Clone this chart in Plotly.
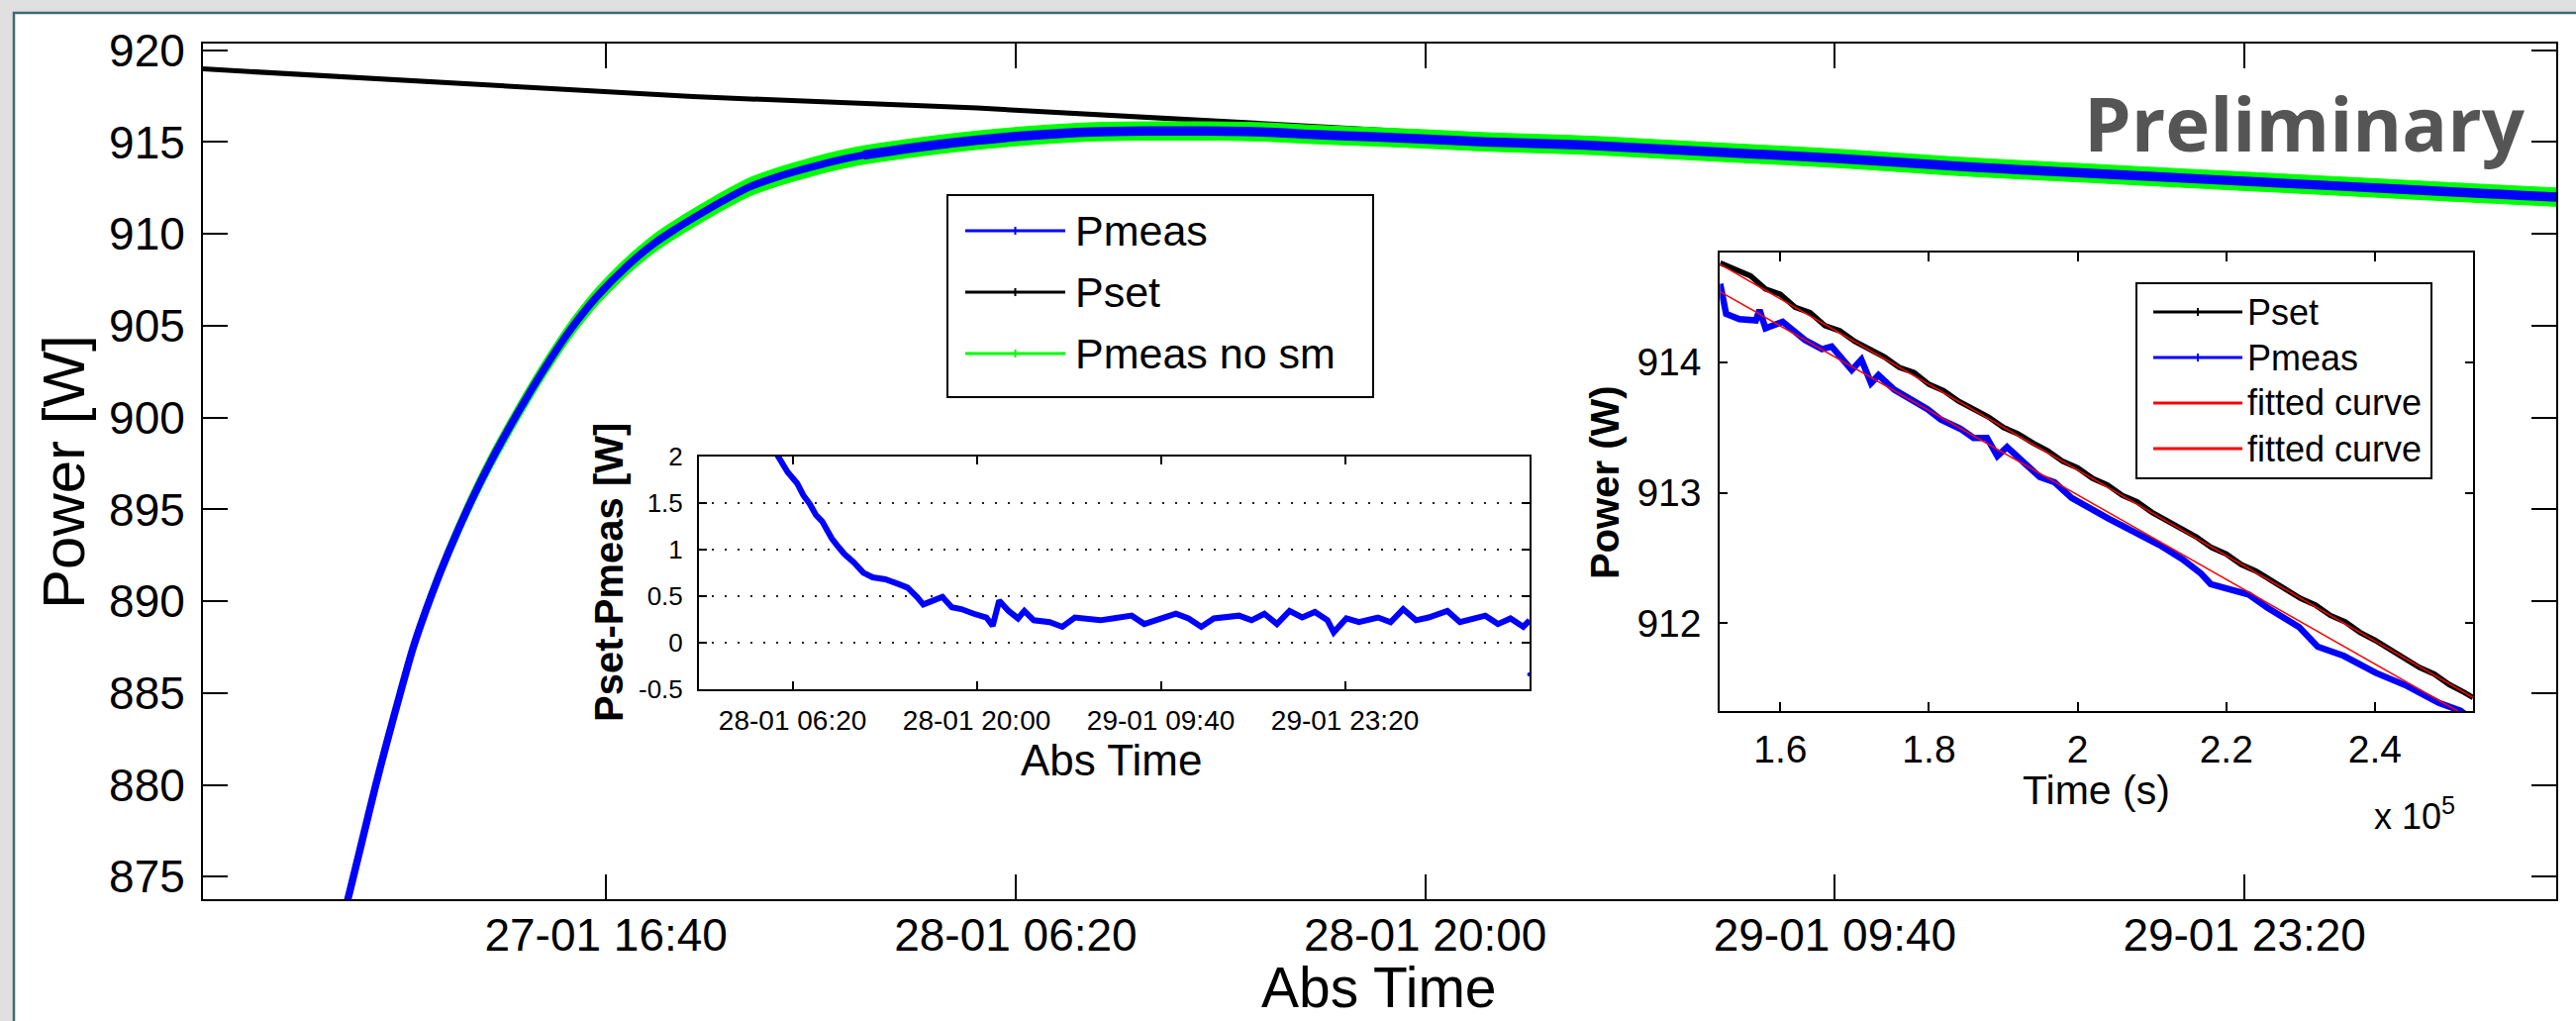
import plotly.graph_objects as go

FONT = "Liberation Sans, Arial, Helvetica, sans-serif"

# ------------------------------------------------------------------
# Main panel: Power [W] vs Abs Time
# ------------------------------------------------------------------
main_tick_times = ["2015-01-27 16:40", "2015-01-28 06:20", "2015-01-28 20:00",
                   "2015-01-29 09:40", "2015-01-29 23:20"]
main_power_ticks = [875, 880, 885, 890, 895, 900, 905, 910, 915, 920]

pmeas_time = [
    "2015-01-27 07:21", "2015-01-27 08:06", "2015-01-27 08:32", "2015-01-27 08:59",
    "2015-01-27 09:21", "2015-01-27 09:48", "2015-01-27 10:14", "2015-01-27 10:50",
    "2015-01-27 11:25", "2015-01-27 12:09", "2015-01-27 12:49", "2015-01-27 13:42",
    "2015-01-27 14:35", "2015-01-27 15:29", "2015-01-27 16:22", "2015-01-27 17:24",
    "2015-01-27 18:17", "2015-01-27 19:01", "2015-01-27 19:34", "2015-01-27 20:34",
    "2015-01-27 21:27", "2015-01-27 22:23", "2015-01-27 23:22", "2015-01-28 00:18",
    "2015-01-28 01:15", "2015-01-28 03:10", "2015-01-28 05:03", "2015-01-28 06:56",
    "2015-01-28 08:51", "2015-01-28 10:44", "2015-01-28 12:39", "2015-01-28 14:32",
    "2015-01-28 16:25", "2015-01-28 18:20", "2015-01-28 20:13", "2015-01-28 22:08",
    "2015-01-29 01:18", "2015-01-29 05:32", "2015-01-29 09:45", "2015-01-29 13:57",
    "2015-01-29 18:11", "2015-01-29 22:25", "2015-01-30 02:38", "2015-01-30 06:52",
    "2015-01-30 09:44"]
pmeas_power = [
    869.3, 874.1, 877.0, 880.0,
    882.3, 885.0, 887.5, 890.3,
    892.7, 895.4, 897.6, 900.2,
    902.6, 904.8, 906.6, 908.3,
    909.5, 910.3, 910.85, 911.8,
    912.55, 913.1, 913.57, 913.97,
    914.29, 914.74, 915.1, 915.37,
    915.55, 915.6, 915.6, 915.55,
    915.4, 915.28, 915.15, 915.0,
    914.83, 914.47, 914.11, 913.66,
    913.3, 912.94, 912.59, 912.23,
    912.0]

# unsmoothed measurement: read as a noise band (upper / lower edge of the green trace)
pmeas_nosm_time = list(pmeas_time)
pmeas_nosm_upper = [
    869.8, 874.6, 877.5, 880.5,
    882.8, 885.5, 888.0, 890.8,
    893.2, 895.9, 898.1, 900.7,
    903.1, 905.3, 907.1, 908.8,
    910.0, 910.8, 911.35, 912.3,
    913.05, 913.6, 914.07, 914.47,
    914.79, 915.24, 915.6, 915.87,
    916.05, 916.1, 916.1, 916.05,
    915.9, 915.78, 915.65, 915.5,
    915.33, 914.97, 914.61, 914.16,
    913.8, 913.44, 913.09, 912.73,
    912.5]
pmeas_nosm_lower = [
    868.8, 873.6, 876.5, 879.5,
    881.8, 884.5, 887.0, 889.8,
    892.2, 894.9, 897.1, 899.7,
    902.1, 904.3, 906.1, 907.8,
    909.0, 909.8, 910.35, 911.3,
    912.05, 912.6, 913.07, 913.47,
    913.79, 914.24, 914.6, 914.87,
    915.05, 915.1, 915.1, 915.05,
    914.9, 914.78, 914.65, 914.5,
    914.33, 913.97, 913.61, 913.16,
    912.8, 912.44, 912.09, 911.73,
    911.5]

pset_time = ["2015-01-27 03:00", "2015-01-27 12:58", "2015-01-27 19:34",
             "2015-01-28 05:03", "2015-01-28 11:42", "2015-01-28 17:34",
             "2015-01-29 01:18", "2015-01-29 18:11", "2015-01-30 09:44"]
pset_power = [919.0, 918.06, 917.47, 916.85, 916.25, 915.72, 915.07, 913.55, 912.22]

# ------------------------------------------------------------------
# Inset 1: Pset-Pmeas [W] vs Abs Time
# ------------------------------------------------------------------
diff_tick_times = ["2015-01-28 06:20", "2015-01-28 20:00",
                   "2015-01-29 09:40", "2015-01-29 23:20"]
diff_ticks = [-0.5, 0, 0.5, 1, 1.5, 2]
diff_ticklabels = ["-0.5", "0", "0.5", "1", "1.5", "2"]
diff_time = [
    "2015-01-28 04:50", "2015-01-28 05:15", "2015-01-28 05:58", "2015-01-28 06:40",
    "2015-01-28 07:08", "2015-01-28 07:36", "2015-01-28 08:04", "2015-01-28 08:32",
    "2015-01-28 09:14", "2015-01-28 09:43", "2015-01-28 10:11", "2015-01-28 10:53",
    "2015-01-28 11:35", "2015-01-28 12:17", "2015-01-28 13:13", "2015-01-28 14:10",
    "2015-01-28 14:52", "2015-01-28 15:34", "2015-01-28 16:02", "2015-01-28 16:44",
    "2015-01-28 17:27", "2015-01-28 18:09", "2015-01-28 18:51", "2015-01-28 19:47",
    "2015-01-28 20:43", "2015-01-28 21:11", "2015-01-28 21:40", "2015-01-28 22:22",
    "2015-01-28 23:04", "2015-01-28 23:32", "2015-01-29 00:14", "2015-01-29 01:25",
    "2015-01-29 02:21", "2015-01-29 03:17", "2015-01-29 04:13", "2015-01-29 05:10",
    "2015-01-29 06:06", "2015-01-29 07:30", "2015-01-29 08:26", "2015-01-29 09:51",
    "2015-01-29 10:47", "2015-01-29 11:43", "2015-01-29 12:40", "2015-01-29 13:36",
    "2015-01-29 14:32", "2015-01-29 15:28", "2015-01-29 16:24", "2015-01-29 17:21",
    "2015-01-29 18:17", "2015-01-29 19:13", "2015-01-29 20:09", "2015-01-29 21:06",
    "2015-01-29 22:02", "2015-01-29 22:30", "2015-01-29 23:26", "2015-01-30 00:22",
    "2015-01-30 01:47", "2015-01-30 02:43", "2015-01-30 03:39", "2015-01-30 04:36",
    "2015-01-30 05:32", "2015-01-30 06:56", "2015-01-30 07:52", "2015-01-30 08:49",
    "2015-01-30 09:45", "2015-01-30 10:41", "2015-01-30 11:37", "2015-01-30 12:34",
    "2015-01-30 13:02"]
diff_value = [
    2.10, 2.00, 1.83, 1.71,
    1.58, 1.49, 1.37, 1.30,
    1.12, 1.03, 0.95, 0.86,
    0.75, 0.70, 0.68, 0.63,
    0.59, 0.49, 0.41, 0.45,
    0.49, 0.38, 0.36, 0.31,
    0.27, 0.18, 0.45, 0.34,
    0.26, 0.34, 0.24, 0.22,
    0.17, 0.27, 0.26, 0.24,
    0.26, 0.29, 0.20, 0.26,
    0.31, 0.26, 0.17, 0.26,
    0.27, 0.29, 0.24, 0.31,
    0.20, 0.34, 0.27, 0.33,
    0.24, 0.11, 0.26, 0.22,
    0.27, 0.22, 0.36, 0.24,
    0.27, 0.34, 0.22, 0.26,
    0.29, 0.20, 0.26, 0.17,
    0.24]
diff_outlier_time = ["2015-01-30 13:00"]
diff_outlier_value = [-0.34]

# ------------------------------------------------------------------
# Inset 2: Power (W) vs Time (s)
# ------------------------------------------------------------------
fit_time_ticks = [160000, 180000, 200000, 220000, 240000]
fit_time_ticklabels = ["1.6", "1.8", "2", "2.2", "2.4"]
fit_power_ticks = [912, 913, 914]

inset_pset_time = [151900, 153500, 156000, 158000, 160000, 162000, 164000, 166000,
                   168000, 170000, 172000, 174000, 176000, 178000, 180000, 182000,
                   184000, 186000, 188000, 190000, 192000, 194000, 196000, 198000,
                   200000, 202000, 204000, 206000, 208000, 210000, 212000, 214000,
                   216000, 218000, 220000, 222000, 224000, 226000, 228000, 230000,
                   232000, 234000, 236000, 238000, 240000, 242000, 244000, 246000,
                   248000, 250000, 252000, 253200]
inset_pset_power = [914.76, 914.72, 914.66, 914.56, 914.52, 914.42, 914.38, 914.28,
                    914.24, 914.16, 914.10, 914.04, 913.96, 913.92, 913.83, 913.78,
                    913.70, 913.64, 913.58, 913.50, 913.45, 913.38, 913.32, 913.24,
                    913.19, 913.11, 913.06, 912.98, 912.93, 912.85, 912.79, 912.72,
                    912.66, 912.58, 912.53, 912.45, 912.40, 912.33, 912.26, 912.19,
                    912.14, 912.06, 912.01, 911.93, 911.87, 911.80, 911.74, 911.66,
                    911.61, 911.53, 911.47, 911.43]

inset_pmeas_time = [151900, 152700, 154500, 156700, 157200, 158000, 160300, 163300,
                    165600, 166900, 169600, 170900, 172200, 173200, 175300, 177600,
                    179800, 181600, 184200, 186000, 187800, 189200, 190500, 192200,
                    194900, 196900, 199200, 204200, 207700, 211000, 214100, 216600,
                    217900, 223000, 225500, 229800, 232300, 235800, 240100, 244300,
                    248600, 251500, 252900]
inset_pmeas_power = [914.60, 914.37, 914.33, 914.32, 914.40, 914.26, 914.31, 914.17,
                     914.10, 914.12, 913.94, 914.02, 913.84, 913.90, 913.79, 913.72,
                     913.64, 913.56, 913.49, 913.42, 913.42, 913.28, 913.35, 913.26,
                     913.12, 913.08, 912.96, 912.80, 912.70, 912.60, 912.49, 912.38,
                     912.30, 912.22, 912.12, 911.97, 911.82, 911.75, 911.62, 911.52,
                     911.39, 911.33, 911.27]

fit_line_time = [151900, 253200]
fit_line_pset = [914.75, 911.43]
fit_line_pmeas = [914.54, 911.26]

# ------------------------------------------------------------------
# Geometry helpers (pixel -> paper fractions)
# ------------------------------------------------------------------
W, H = 2602, 1031
L, R, T, B = 205, 2582, 44, 908


def fx(px):
    return (px - L) / (R - L)


def fy(py):
    return (B - py) / (B - T)


def axis_style(ticklen, fontsize, standoff):
    return dict(showline=True, linecolor="black", linewidth=2, mirror="ticks",
                ticks="inside", ticklen=ticklen, tickwidth=1.5, tickcolor="black",
                showgrid=False, zeroline=False, ticklabelstandoff=standoff,
                tickfont=dict(family=FONT, size=fontsize, color="black"))


BLUE, GREEN, RED = "#0000ff", "#00ff00", "#ff0000"
flat_start = pmeas_time.index("2015-01-28 01:15")

fig = go.Figure()

# main panel traces
fig.add_trace(go.Scatter(x=pset_time, y=pset_power, mode="lines",
                         line=dict(color="black", width=5), name="Pset",
                         xaxis="x", yaxis="y"))
fig.add_trace(go.Scatter(x=pmeas_nosm_time, y=pmeas_nosm_lower, mode="lines",
                         line=dict(color=GREEN, width=1, shape="spline", smoothing=0.8),
                         name="Pmeas no sm", xaxis="x", yaxis="y"))
fig.add_trace(go.Scatter(x=pmeas_nosm_time, y=pmeas_nosm_upper, mode="lines",
                         line=dict(color=GREEN, width=1, shape="spline", smoothing=0.8),
                         fill="tonexty", fillcolor=GREEN,
                         name="Pmeas no sm", xaxis="x", yaxis="y"))
fig.add_trace(go.Scatter(x=pmeas_time, y=pmeas_power, mode="lines",
                         line=dict(color=BLUE, width=7.5, shape="spline", smoothing=0.8),
                         name="Pmeas", xaxis="x", yaxis="y"))
fig.add_trace(go.Scatter(x=pmeas_time[flat_start:], y=pmeas_power[flat_start:], mode="lines",
                         line=dict(color=BLUE, width=9.5, shape="spline", smoothing=0.8),
                         name="Pmeas", xaxis="x", yaxis="y"))

# inset 1
fig.add_trace(go.Scatter(x=diff_time, y=diff_value, mode="lines",
                         line=dict(color=BLUE, width=6), name="Pset-Pmeas",
                         xaxis="x2", yaxis="y2"))
fig.add_trace(go.Scatter(x=diff_outlier_time, y=diff_outlier_value, mode="markers",
                         marker=dict(color=BLUE, size=4), name="Pset-Pmeas",
                         xaxis="x2", yaxis="y2"))

# inset 2
fig.add_trace(go.Scatter(x=inset_pset_time, y=inset_pset_power, mode="lines",
                         line=dict(color="black", width=5.5), name="Pset",
                         xaxis="x3", yaxis="y3"))
fig.add_trace(go.Scatter(x=inset_pmeas_time, y=inset_pmeas_power, mode="lines",
                         line=dict(color=BLUE, width=6.5), name="Pmeas",
                         xaxis="x3", yaxis="y3"))
fig.add_trace(go.Scatter(x=fit_line_time, y=fit_line_pset, mode="lines",
                         line=dict(color=RED, width=1.5), name="fitted curve",
                         xaxis="x3", yaxis="y3"))
fig.add_trace(go.Scatter(x=fit_line_time, y=fit_line_pmeas, mode="lines",
                         line=dict(color=RED, width=1.5), name="fitted curve",
                         xaxis="x3", yaxis="y3"))

# ------------------------------------------------------------------
# Axes
# ------------------------------------------------------------------
xaxis = axis_style(25, 46, -5)
xaxis.update(type="date", range=["2015-01-27 03:13", "2015-01-30 09:44"],
             tickvals=main_tick_times, tickformat="%d-%m %H:%M", domain=[0, 1], anchor="y")
yaxis = axis_style(25, 46, 7)
yaxis.update(range=[873.78, 920.36], tickvals=main_power_ticks, domain=[0, 1], anchor="x")

xaxis2 = axis_style(8, 28, 5)
xaxis2.update(type="date", range=["2015-01-27 23:23", "2015-01-30 13:02"],
              tickvals=diff_tick_times, tickformat="%d-%m %H:%M",
              domain=[fx(706), fx(1545)], anchor="y2")
yaxis2 = axis_style(8, 26, 9)
yaxis2.update(range=[-0.5, 2], tickvals=diff_ticks, ticktext=diff_ticklabels,
              showgrid=True, gridcolor="#222222", gridwidth=1.5, griddash="2px,11px",
              domain=[fy(696), fy(460.7)], anchor="x2")

xaxis3 = axis_style(9, 39, 3)
xaxis3.update(range=[151870, 253200], tickvals=fit_time_ticks, ticktext=fit_time_ticklabels,
              domain=[fx(1737.3), fx(2498)], anchor="y3")
yaxis3 = axis_style(8, 39, 9)
yaxis3.update(range=[911.325, 914.84], tickvals=fit_power_ticks,
              domain=[fy(718.3), fy(255)], anchor="x3")

# ------------------------------------------------------------------
# Shapes: background panel and hand-drawn legends
# ------------------------------------------------------------------
shapes = [
    dict(type="rect", xref="paper", yref="paper", layer="below",
         x0=fx(14), x1=fx(2700), y0=fy(1100), y1=fy(13),
         fillcolor="white", line=dict(color="#3f6a72", width=2.5)),
    dict(type="rect", xref="paper", yref="paper", layer="above",
         x0=fx(957), x1=fx(1387), y0=fy(401), y1=fy(197),
         fillcolor="white", line=dict(color="black", width=2)),
    dict(type="rect", xref="paper", yref="paper", layer="above",
         x0=fx(2158), x1=fx(2456), y0=fy(483), y1=fy(286),
         fillcolor="white", line=dict(color="black", width=2)),
]
annotations = []

main_legend = [("Pmeas", BLUE, 233), ("Pset", "black", 295), ("Pmeas no sm", GREEN, 357)]
for label, color, py in main_legend:
    shapes.append(dict(type="line", xref="paper", yref="paper", layer="above",
                       x0=fx(975), x1=fx(1076), y0=fy(py), y1=fy(py),
                       line=dict(color=color, width=3)))
    shapes.append(dict(type="line", xref="paper", yref="paper", layer="above",
                       x0=fx(1025.5), x1=fx(1025.5), y0=fy(py - 4), y1=fy(py + 4),
                       line=dict(color=color, width=2)))
    annotations.append(dict(text=label, xref="paper", yref="paper", x=fx(1084), y=fy(py),
                            xanchor="left", yanchor="middle", showarrow=False,
                            font=dict(family=FONT, size=43, color="black")))

inset_legend = [("Pset", "black", 315, True), ("Pmeas", BLUE, 361, True),
                ("fitted curve", RED, 407, False), ("fitted curve", RED, 453, False)]
for label, color, py, has_marker in inset_legend:
    shapes.append(dict(type="line", xref="paper", yref="paper", layer="above",
                       x0=fx(2175), x1=fx(2265), y0=fy(py), y1=fy(py),
                       line=dict(color=color, width=3)))
    if has_marker:
        shapes.append(dict(type="line", xref="paper", yref="paper", layer="above",
                           x0=fx(2220), x1=fx(2220), y0=fy(py - 4), y1=fy(py + 4),
                           line=dict(color=color, width=2)))
    annotations.append(dict(text=label, xref="paper", yref="paper", x=fx(2268), y=fy(py),
                            xanchor="left", yanchor="middle", showarrow=False,
                            font=dict(family=FONT, size=36, color="black")))


def title_ann(text, cx, cy, size, angle=0, bold=False):
    return dict(text=text, xref="paper", yref="paper", x=fx(cx), y=fy(cy),
                xanchor="center", yanchor="middle", showarrow=False, textangle=angle,
                font=dict(family=FONT, size=size, color="black",
                          weight="bold" if bold else "normal"))


annotations += [
    title_ann("Abs Time", 1393, 997, 57),
    title_ann("Power [W]", 64, 477, 60, -90),
    title_ann("Abs Time", 1122, 767, 44),
    title_ann("Pset-Pmeas [W]", 615, 578, 40, -90, True),
    title_ann("Time (s)", 2117, 798, 41),
    title_ann("Power (W)", 1621, 487, 40, -90, True),
    dict(text="x 10<sup>5</sup>", xref="paper", yref="paper", x=fx(2396), y=fy(822),
         xanchor="left", yanchor="middle", showarrow=False,
         font=dict(family=FONT, size=36, color="black")),
    dict(text="Preliminary", xref="paper", yref="paper", x=fx(2553), y=fy(124),
         xanchor="right", yanchor="middle", showarrow=False,
         font=dict(family="Open Sans, Lato, sans-serif", size=76, color="#555555",
                   weight="bold")),
]

fig.update_layout(
    width=W, height=H,
    margin=dict(l=L, r=W - R, t=T, b=H - B),
    paper_bgcolor="#e0e0e0", plot_bgcolor="white",
    showlegend=False,
    xaxis=xaxis, yaxis=yaxis,
    xaxis2=xaxis2, yaxis2=yaxis2,
    xaxis3=xaxis3, yaxis3=yaxis3,
    shapes=shapes, annotations=annotations,
)

fig.write_html("out.html", config={"displayModeBar": False})
